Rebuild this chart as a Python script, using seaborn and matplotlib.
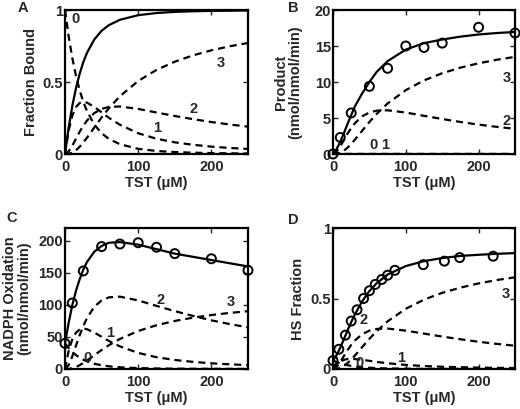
import numpy as np
import pandas as pd
import seaborn as sns
import matplotlib
matplotlib.use("Agg")
import matplotlib.pyplot as plt

sns.set_style("ticks")
plt.rcParams['font.family'] = ['Liberation Sans', 'DejaVu Sans']
plt.rcParams['font.weight'] = 'bold'
plt.rcParams['axes.labelweight'] = 'bold'

# ---------------- data ----------------
tst = [0, 5, 10, 15, 20, 25, 30, 40, 50, 60, 75, 100, 125, 150, 175, 200, 225, 250]

# Panel A : fraction bound
a_total = [0, 0.183, 0.334, 0.457, 0.557, 0.638, 0.702, 0.795, 0.856, 0.895, 0.932, 0.964, 0.979, 0.987, 0.991, 0.994, 0.995, 0.997]
a_s0 = [1, 0.817, 0.666, 0.543, 0.443, 0.362, 0.298, 0.205, 0.144, 0.105, 0.068, 0.036, 0.021, 0.0135, 0.009, 0.0064, 0.0047, 0.0035]
a_s1 = [0, 0.163, 0.267, 0.326, 0.354, 0.362, 0.357, 0.327, 0.289, 0.251, 0.203, 0.144, 0.106, 0.081, 0.064, 0.051, 0.042, 0.035]
a_s2 = [0, 0.018, 0.058, 0.106, 0.154, 0.196, 0.232, 0.284, 0.313, 0.327, 0.330, 0.313, 0.288, 0.264, 0.242, 0.222, 0.205, 0.190]
a_s3 = [0, 0.001, 0.009, 0.026, 0.050, 0.080, 0.113, 0.184, 0.254, 0.318, 0.401, 0.507, 0.584, 0.641, 0.685, 0.720, 0.748, 0.771]

# Panel B : product
b_total = [0, 0.7, 1.7, 2.9, 4.2, 5.4, 6.6, 8.4, 10.0, 11.4, 12.9, 14.5, 15.4, 15.9, 16.3, 16.6, 16.8, 16.95]
b_s0 = [0] * 18
b_s1 = [0] * 18
b_s2 = [0, 0.33, 1.07, 1.95, 2.83, 3.6, 4.27, 5.23, 5.76, 6.02, 6.07, 5.76, 5.30, 4.86, 4.45, 4.08, 3.77, 3.5]
b_s3 = [0, 0.02, 0.16, 0.46, 0.88, 1.40, 1.98, 3.22, 4.45, 5.57, 7.02, 8.87, 10.22, 11.22, 11.99, 12.6, 13.09, 13.49]
b_obs_x = [0, 10, 25, 50, 75, 100, 125, 150, 200, 250]
b_obs_y = [0, 2.3, 5.7, 9.4, 11.9, 15.0, 14.8, 15.4, 17.6, 16.8]

# Panel C : NADPH oxidation
c_total = [40, 72, 100, 122, 140, 155, 167, 183, 192, 197, 198, 194, 187, 180, 175, 170, 165, 160]
c_s0 = [40, 32.7, 26.6, 21.7, 17.7, 14.5, 11.9, 8.2, 5.8, 4.2, 2.7, 1.4, 0.8, 0.5, 0.4, 0.3, 0.2, 0.1]
c_s1 = [0, 28.4, 46.5, 56.7, 61.6, 63.0, 62.1, 56.9, 50.3, 43.7, 35.3, 25.1, 18.4, 14.1, 11.1, 8.9, 7.3, 6.1]
c_s2 = [0, 6.1, 19.8, 36.3, 52.7, 67.0, 79.3, 97.1, 107.0, 111.8, 112.9, 107.0, 98.5, 90.3, 82.8, 75.9, 70.1, 65.0]
c_s3 = [0, 0.2, 1.1, 3.0, 5.9, 9.4, 13.2, 21.5, 29.7, 37.2, 46.9, 59.3, 68.3, 75.0, 80.1, 84.2, 87.5, 90.2]
c_obs_x = [0, 10, 25, 50, 75, 100, 125, 150, 200, 250]
c_obs_y = [40, 103, 153, 191, 195, 197, 190, 180, 172, 154]

# Panel D : HS fraction
d_total = [0.06, 0.098, 0.151, 0.212, 0.274, 0.332, 0.386, 0.479, 0.553, 0.608, 0.670, 0.730, 0.765, 0.787, 0.802, 0.810, 0.817, 0.822]
d_s0 = [0.06, 0.049, 0.040, 0.033, 0.027, 0.022, 0.018, 0.012, 0.009, 0.006, 0.004, 0.002, 0.001, 0.001, 0.001, 0.0, 0.0, 0.0]
d_s1 = [0, 0.033, 0.053, 0.065, 0.071, 0.072, 0.071, 0.065, 0.058, 0.050, 0.041, 0.029, 0.021, 0.016, 0.013, 0.010, 0.008, 0.007]
d_s2 = [0, 0.015, 0.050, 0.092, 0.134, 0.171, 0.202, 0.247, 0.272, 0.284, 0.287, 0.272, 0.251, 0.230, 0.211, 0.193, 0.178, 0.165]
d_s3 = [0, 0.001, 0.008, 0.022, 0.042, 0.067, 0.095, 0.155, 0.214, 0.268, 0.338, 0.427, 0.492, 0.540, 0.577, 0.607, 0.631, 0.650]
d_obs_x = [0, 8, 17, 25, 33, 42, 50, 58, 67, 75, 85, 124, 153, 174, 220]
d_obs_y = [0.06, 0.14, 0.24, 0.34, 0.42, 0.50, 0.555, 0.60, 0.635, 0.665, 0.70, 0.74, 0.765, 0.79, 0.80]

# curve labels: (text, x, y)
a_labels = [("0", 14, 0.94), ("1", 126, 0.18), ("2", 175, 0.31), ("3", 213, 0.63)]
b_labels = [("0", 56, 1.3), ("1", 72, 1.3), ("2", 239, 4.6), ("3", 239, 10.5)]
c_labels = [("0", 31, 17), ("1", 61, 56), ("2", 130, 108), ("3", 226, 104)]
d_labels = [("0", 37, 0.045), ("1", 94, 0.075), ("2", 42, 0.35), ("3", 238, 0.53)]

# ---------------- figure ----------------
fig = plt.figure(figsize=(5.2, 4.09), dpi=100)
W, H = 520, 409

def make_ax(x0, y0, x1, y1):
    return fig.add_axes([x0 / W, 1 - y1 / H, (x1 - x0) / W, (y1 - y0) / H])

axA = make_ax(65, 10, 248, 154)
axB = make_ax(333, 10, 515, 154)
axC = make_ax(65, 228, 248, 369)
axD = make_ax(333, 228, 515, 369)

FS = 10.5

def panel(ax, total, states, labels, ylim, yticks, yticklabels, ylabel, ypad, obs=None):
    for s in states:
        sns.lineplot(x=tst, y=s, ax=ax, color='k', lw=1.6, linestyle=(0, (3.2, 2.2)), estimator=None)
    sns.lineplot(x=tst, y=total, ax=ax, color='k', lw=1.6, estimator=None)
    if obs is not None:
        sns.scatterplot(x=obs[0], y=obs[1], ax=ax, s=42, facecolor='none', edgecolor='k', linewidth=1.4, zorder=5, clip_on=False)
    for t, x, y in labels:
        ax.text(x, y, t, fontsize=FS, fontweight='bold', ha='center', va='center')
    ax.set_xlim(0, 250)
    ax.set_ylim(*ylim)
    ax.set_xticks([0, 100, 200])
    ax.set_xticklabels(['0', '100', '200'], fontsize=FS, fontweight='bold')
    ax.set_yticks(yticks)
    ax.set_yticklabels(yticklabels, fontsize=FS, fontweight='bold')
    ax.set_xlabel('TST (\u03bcM)', fontsize=FS, fontweight='bold', labelpad=2)
    ax.set_ylabel(ylabel, fontsize=FS, fontweight='bold', labelpad=ypad, linespacing=1.05)
    ax.tick_params(direction='in', length=3.5, width=1.0, top=True, right=True)
    ax.tick_params(axis='x', pad=4)
    ax.tick_params(axis='y', pad=1.5)
    for sp in ax.spines.values():
        sp.set_visible(True)
        sp.set_linewidth(1.6)
        sp.set_color('k')

panel(axA, a_total, [a_s0, a_s1, a_s2, a_s3], a_labels, (0, 1), [0, 0.5, 1], ['0', '0.5', '1'], 'Fraction Bound', 3.5)
panel(axB, b_total, [b_s0, b_s1, b_s2, b_s3], b_labels, (0, 20), [0, 5, 10, 15, 20], ['0', '5', '10', '15', '20'],
      'Product\n(nmol/nmol/min)', 8.5, obs=(b_obs_x, b_obs_y))
panel(axC, c_total, [c_s0, c_s1, c_s2, c_s3], c_labels, (0, 220), [0, 50, 100, 150, 200], ['0', '50', '100', '150', '200'],
      'NADPH Oxidation\n(nmol/nmol/min)', 5, obs=(c_obs_x, c_obs_y))
panel(axD, d_total, [d_s0, d_s1, d_s2, d_s3], d_labels, (0, 1), [0, 0.5, 1], ['0', '0.5', '1'], 'HS Fraction', 4,
      obs=(d_obs_x, d_obs_y))

for t, x, y in [("A", 23, 8), ("B", 293, 8), ("C", 12, 218), ("D", 293, 220)]:
    fig.text(x / W, 1 - y / H, t, fontsize=FS, fontweight='bold', ha='center', va='center')

fig.savefig('out.png', dpi=100)
